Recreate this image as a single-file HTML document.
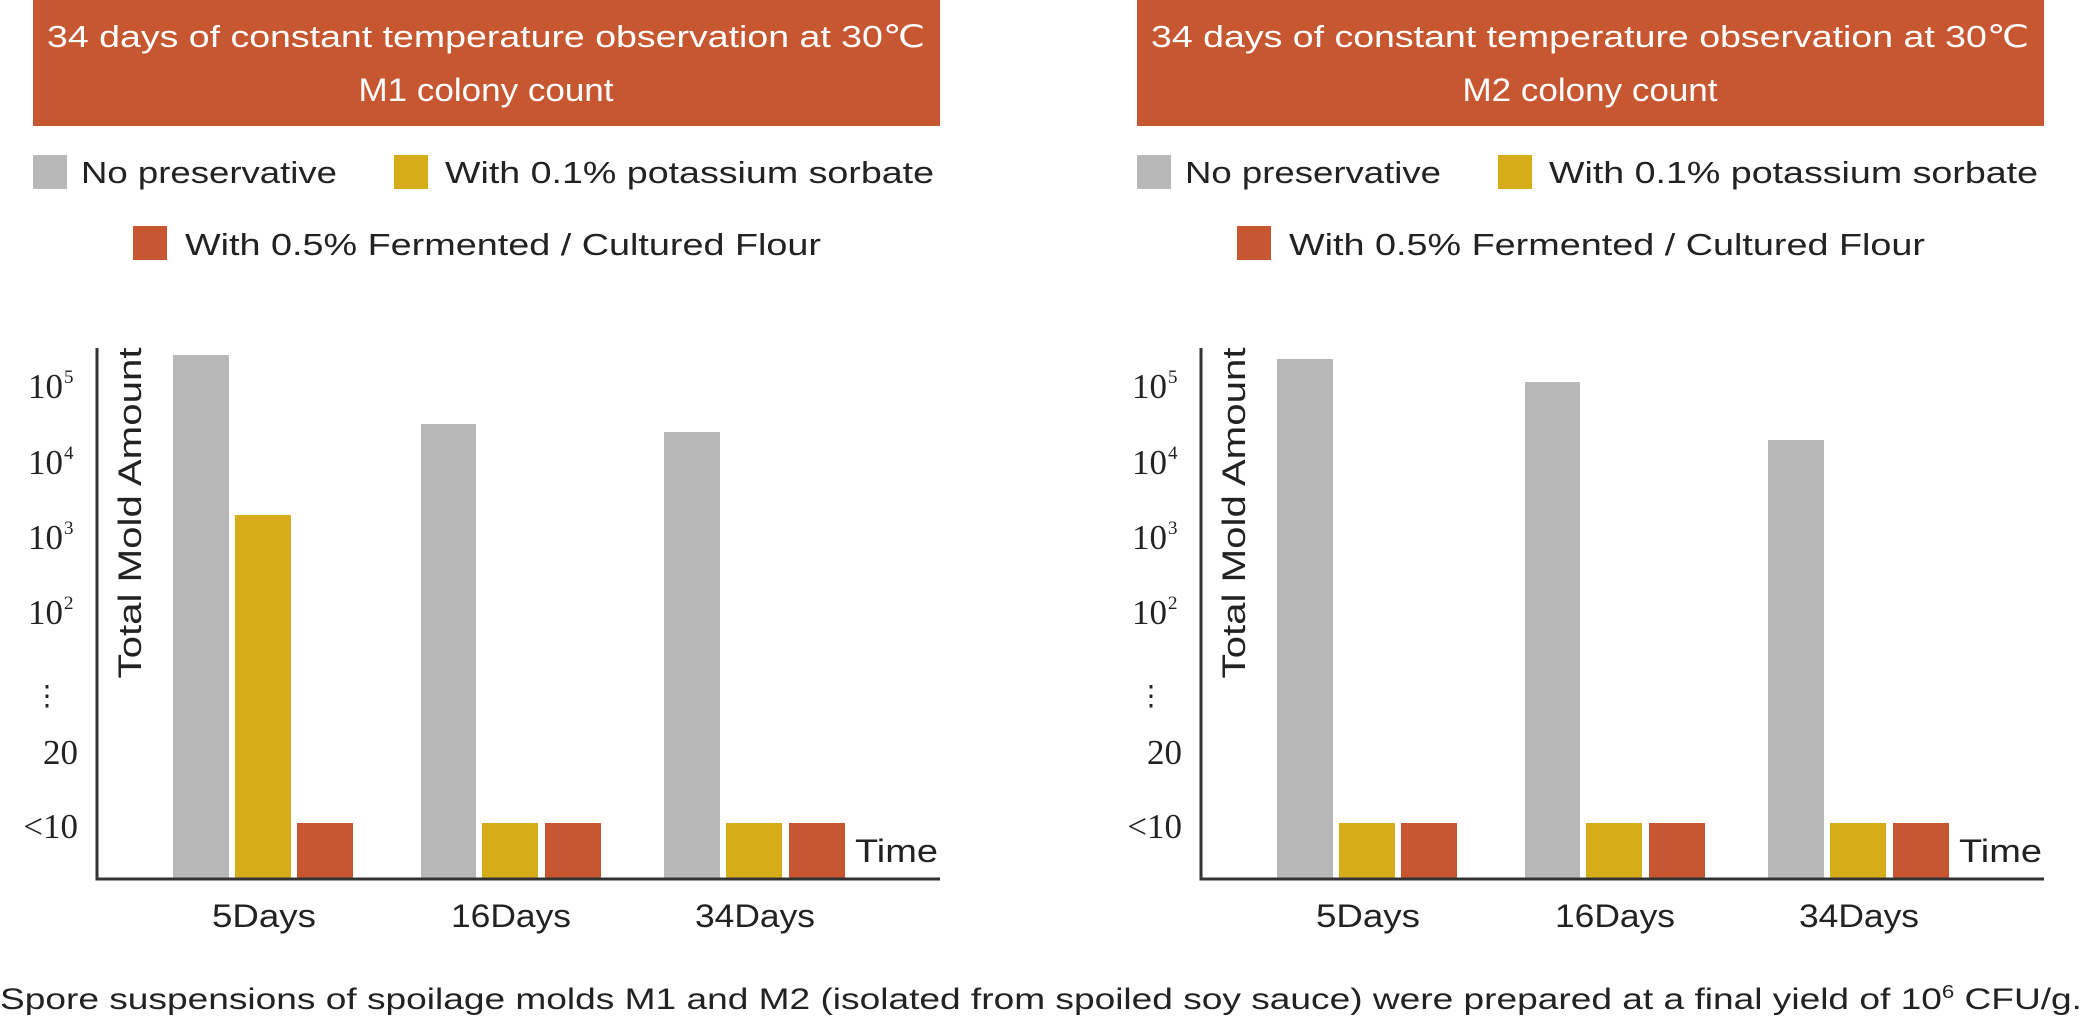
<!DOCTYPE html>
<html><head><meta charset="utf-8"><style>
html,body{margin:0;padding:0;background:#fff;}
svg{display:block;font-family:"Liberation Sans",sans-serif;}
</style></head><body>
<svg width="2085" height="1018" viewBox="0 0 2085 1018" xmlns="http://www.w3.org/2000/svg">
<!-- LEFT CHART -->
<g>
<rect x="33" y="0" width="907" height="126" fill="#c65731"/>
<text x="486" y="47" font-size="31" fill="#fff" text-anchor="middle" textLength="878" lengthAdjust="spacingAndGlyphs">34 days of constant temperature observation at 30℃</text>
<text x="486" y="101" font-size="32" fill="#fff" text-anchor="middle" textLength="255" lengthAdjust="spacingAndGlyphs">M1 colony count</text>
<rect x="33" y="155" width="34" height="34" fill="#b8b8b8"/>
<text x="81" y="183" font-size="31" fill="#222" textLength="256" lengthAdjust="spacingAndGlyphs">No preservative</text>
<rect x="394" y="155" width="34" height="34" fill="#d6ad18"/>
<text x="445" y="183" font-size="31" fill="#222" textLength="489" lengthAdjust="spacingAndGlyphs">With 0.1% potassium sorbate</text>
<rect x="133" y="226" width="34" height="34" fill="#c65731"/>
<text x="185" y="255" font-size="31" fill="#222" textLength="636" lengthAdjust="spacingAndGlyphs">With 0.5% Fermented / Cultured Flour</text>
<rect x="173" y="355" width="56" height="523" fill="#b8b8b8"/>
<rect x="235" y="515" width="56" height="363" fill="#d6ad18"/>
<rect x="297" y="823" width="56" height="55" fill="#c65731"/>
<rect x="421" y="424" width="55" height="454" fill="#b8b8b8"/>
<rect x="482" y="823" width="56" height="55" fill="#d6ad18"/>
<rect x="545" y="823" width="56" height="55" fill="#c65731"/>
<rect x="664" y="432" width="56" height="446" fill="#b8b8b8"/>
<rect x="726" y="823" width="56" height="55" fill="#d6ad18"/>
<rect x="789" y="823" width="56" height="55" fill="#c65731"/>
<path d="M97 348 V879 H940" fill="none" stroke="#333" stroke-width="3"/>
<g font-family="Liberation Serif,serif" font-size="35" fill="#222" text-anchor="end">
<text x="63" y="398">10</text><text x="64" y="383" font-size="19" text-anchor="start">5</text>
<text x="63" y="474">10</text><text x="64" y="459" font-size="19" text-anchor="start">4</text>
<text x="63" y="549">10</text><text x="64" y="534" font-size="19" text-anchor="start">3</text>
<text x="63" y="624">10</text><text x="64" y="609" font-size="19" text-anchor="start">2</text>
<text x="61" y="705" font-size="28">⋮</text>
<text x="78" y="764">20</text>
<text x="78" y="838">&lt;10</text>
</g>
<text transform="translate(141,513) rotate(-90)" font-size="32" fill="#222" text-anchor="middle" textLength="331" lengthAdjust="spacingAndGlyphs">Total Mold Amount</text>
<text x="855" y="862" font-size="32" fill="#222" textLength="83" lengthAdjust="spacingAndGlyphs">Time</text>
<g font-size="32" fill="#222" text-anchor="middle">
<text x="264" y="927" textLength="104" lengthAdjust="spacingAndGlyphs">5Days</text><text x="511" y="927" textLength="120" lengthAdjust="spacingAndGlyphs">16Days</text><text x="755" y="927" textLength="120" lengthAdjust="spacingAndGlyphs">34Days</text>
</g>
</g>
<!-- RIGHT CHART -->
<g transform="translate(1104,0)">
<rect x="33" y="0" width="907" height="126" fill="#c65731"/>
<text x="486" y="47" font-size="31" fill="#fff" text-anchor="middle" textLength="878" lengthAdjust="spacingAndGlyphs">34 days of constant temperature observation at 30℃</text>
<text x="486" y="101" font-size="32" fill="#fff" text-anchor="middle" textLength="255" lengthAdjust="spacingAndGlyphs">M2 colony count</text>
<rect x="33" y="155" width="34" height="34" fill="#b8b8b8"/>
<text x="81" y="183" font-size="31" fill="#222" textLength="256" lengthAdjust="spacingAndGlyphs">No preservative</text>
<rect x="394" y="155" width="34" height="34" fill="#d6ad18"/>
<text x="445" y="183" font-size="31" fill="#222" textLength="489" lengthAdjust="spacingAndGlyphs">With 0.1% potassium sorbate</text>
<rect x="133" y="226" width="34" height="34" fill="#c65731"/>
<text x="185" y="255" font-size="31" fill="#222" textLength="636" lengthAdjust="spacingAndGlyphs">With 0.5% Fermented / Cultured Flour</text>
<rect x="173" y="359" width="56" height="519" fill="#b8b8b8"/>
<rect x="235" y="823" width="56" height="55" fill="#d6ad18"/>
<rect x="297" y="823" width="56" height="55" fill="#c65731"/>
<rect x="421" y="382" width="55" height="496" fill="#b8b8b8"/>
<rect x="482" y="823" width="56" height="55" fill="#d6ad18"/>
<rect x="545" y="823" width="56" height="55" fill="#c65731"/>
<rect x="664" y="440" width="56" height="438" fill="#b8b8b8"/>
<rect x="726" y="823" width="56" height="55" fill="#d6ad18"/>
<rect x="789" y="823" width="56" height="55" fill="#c65731"/>
<path d="M97 348 V879 H940" fill="none" stroke="#333" stroke-width="3"/>
<g font-family="Liberation Serif,serif" font-size="35" fill="#222" text-anchor="end">
<text x="63" y="398">10</text><text x="64" y="383" font-size="19" text-anchor="start">5</text>
<text x="63" y="474">10</text><text x="64" y="459" font-size="19" text-anchor="start">4</text>
<text x="63" y="549">10</text><text x="64" y="534" font-size="19" text-anchor="start">3</text>
<text x="63" y="624">10</text><text x="64" y="609" font-size="19" text-anchor="start">2</text>
<text x="61" y="705" font-size="28">⋮</text>
<text x="78" y="764">20</text>
<text x="78" y="838">&lt;10</text>
</g>
<text transform="translate(141,513) rotate(-90)" font-size="32" fill="#222" text-anchor="middle" textLength="331" lengthAdjust="spacingAndGlyphs">Total Mold Amount</text>
<text x="855" y="862" font-size="32" fill="#222" textLength="83" lengthAdjust="spacingAndGlyphs">Time</text>
<g font-size="32" fill="#222" text-anchor="middle">
<text x="264" y="927" textLength="104" lengthAdjust="spacingAndGlyphs">5Days</text><text x="511" y="927" textLength="120" lengthAdjust="spacingAndGlyphs">16Days</text><text x="755" y="927" textLength="120" lengthAdjust="spacingAndGlyphs">34Days</text>
</g>
</g>
<text x="0" y="1009" font-size="30" fill="#222" textLength="2082" lengthAdjust="spacingAndGlyphs">Spore suspensions of spoilage molds M1 and M2 (isolated from spoiled soy sauce) were prepared at a final yield of 10<tspan font-size="18" dy="-11">6</tspan><tspan dy="11"> CFU/g.</tspan></text>
</svg>
</body></html>
